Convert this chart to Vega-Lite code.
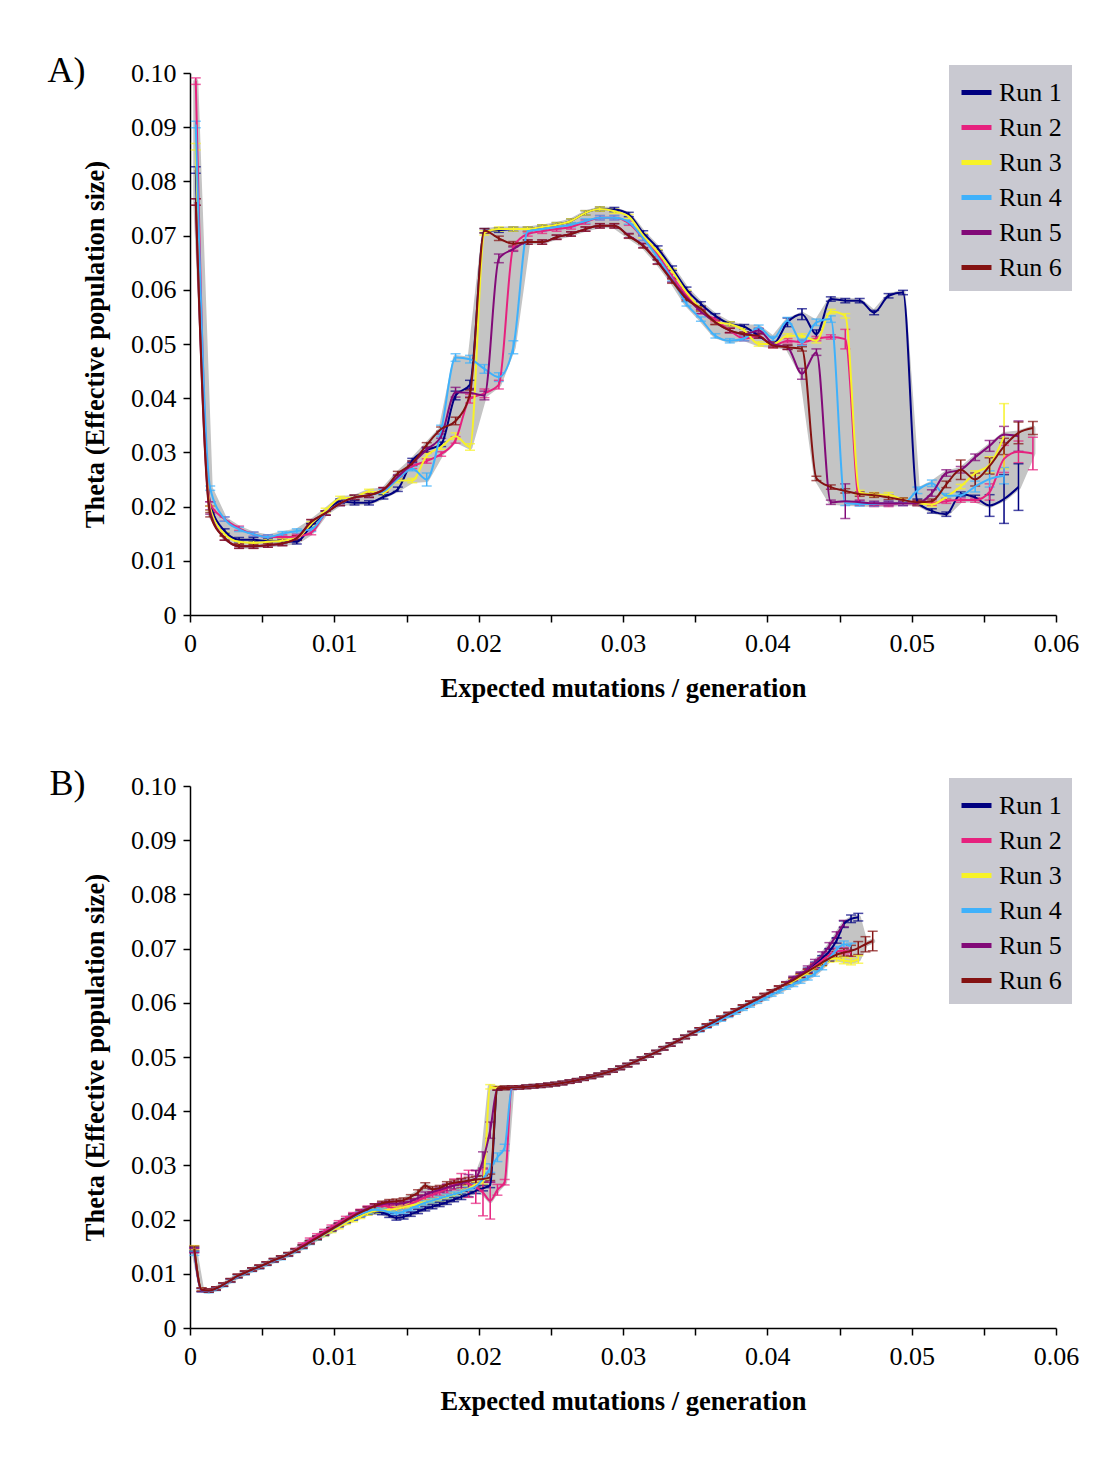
{
"$schema":"https://vega.github.io/schema/vega-lite/v6.json",
"background":"white",
"padding":{"left":47,"top":53,"right":10,"bottom":10},
"spacing":64,
"resolve":{"scale":{"color":"independent"},"legend":{"color":"independent"}},
"config":{"view":{"stroke":null},"font":"Liberation Serif",
"axis":{"labelFont":"Liberation Serif","labelFontSize":26,"labelColor":"#000","titleFont":"Liberation Serif","titleFontSize":26.5,"titleFontWeight":"bold","titleColor":"#000","domainColor":"#000","domainWidth":1.5,"tickColor":"#000","tickWidth":1.5,"tickSize":7,"grid":false},
"title":{"font":"Liberation Serif","fontSize":36,"fontWeight":"normal","color":"#000"}},
"datasets":{
"a":[
{"r":"Run 1","x":0.0004,"y":0.0821,"e":0.0006},{"r":"Run 1","x":0.0014,"y":0.0205,"e":0.0004},{"r":"Run 1","x":0.0024,"y":0.0155,"e":0.0004},{"r":"Run 1","x":0.0034,"y":0.0139,"e":0.0004},{"r":"Run 1","x":0.0044,"y":0.0139,"e":0.0004},{"r":"Run 1","x":0.0054,"y":0.0136,"e":0.0004},{"r":"Run 1","x":0.0064,"y":0.0136,"e":0.0004},{"r":"Run 1","x":0.0074,"y":0.0135,"e":0.0004},{"r":"Run 1","x":0.0084,"y":0.0165,"e":0.0004},{"r":"Run 1","x":0.0094,"y":0.0188,"e":0.0004},{"r":"Run 1","x":0.0104,"y":0.0210,"e":0.0004},{"r":"Run 1","x":0.0114,"y":0.0207,"e":0.0004},{"r":"Run 1","x":0.0124,"y":0.0207,"e":0.0004},{"r":"Run 1","x":0.0134,"y":0.0218,"e":0.0004},{"r":"Run 1","x":0.0144,"y":0.0232,"e":0.0004},{"r":"Run 1","x":0.0154,"y":0.0285,"e":0.0004},{"r":"Run 1","x":0.0164,"y":0.0304,"e":0.0004},{"r":"Run 1","x":0.0174,"y":0.0315,"e":0.0004},{"r":"Run 1","x":0.0184,"y":0.0405,"e":0.0008},{"r":"Run 1","x":0.0194,"y":0.0425,"e":0.0008},{"r":"Run 1","x":0.0204,"y":0.0709,"e":0.0004},{"r":"Run 1","x":0.0214,"y":0.0710,"e":0.0004},{"r":"Run 1","x":0.0224,"y":0.0712,"e":0.0004},{"r":"Run 1","x":0.0234,"y":0.0712,"e":0.0004},{"r":"Run 1","x":0.0244,"y":0.0716,"e":0.0004},{"r":"Run 1","x":0.0254,"y":0.0720,"e":0.0004},{"r":"Run 1","x":0.0264,"y":0.0727,"e":0.0004},{"r":"Run 1","x":0.0274,"y":0.0742,"e":0.0004},{"r":"Run 1","x":0.0284,"y":0.0749,"e":0.0004},{"r":"Run 1","x":0.0294,"y":0.0748,"e":0.0004},{"r":"Run 1","x":0.0304,"y":0.0739,"e":0.0004},{"r":"Run 1","x":0.0314,"y":0.0705,"e":0.0004},{"r":"Run 1","x":0.0324,"y":0.0677,"e":0.0004},{"r":"Run 1","x":0.0334,"y":0.0640,"e":0.0004},{"r":"Run 1","x":0.0344,"y":0.0601,"e":0.0004},{"r":"Run 1","x":0.0354,"y":0.0574,"e":0.0004},{"r":"Run 1","x":0.0364,"y":0.0552,"e":0.0004},{"r":"Run 1","x":0.0374,"y":0.0537,"e":0.0004},{"r":"Run 1","x":0.0384,"y":0.0532,"e":0.0004},{"r":"Run 1","x":0.0394,"y":0.0515,"e":0.0004},{"r":"Run 1","x":0.0404,"y":0.0500,"e":0.0004},{"r":"Run 1","x":0.0414,"y":0.0540,"e":0.0008},{"r":"Run 1","x":0.0424,"y":0.0555,"e":0.0010},{"r":"Run 1","x":0.0434,"y":0.0518,"e":0.0008},{"r":"Run 1","x":0.0444,"y":0.0583,"e":0.0004},{"r":"Run 1","x":0.0454,"y":0.0580,"e":0.0004},{"r":"Run 1","x":0.0464,"y":0.0580,"e":0.0004},{"r":"Run 1","x":0.0474,"y":0.0558,"e":0.0004},{"r":"Run 1","x":0.0484,"y":0.0589,"e":0.0004},{"r":"Run 1","x":0.0494,"y":0.0595,"e":0.0004},{"r":"Run 1","x":0.0504,"y":0.0208,"e":0.0006},{"r":"Run 1","x":0.0514,"y":0.0192,"e":0.0004},{"r":"Run 1","x":0.0524,"y":0.0186,"e":0.0004},{"r":"Run 1","x":0.0534,"y":0.0223,"e":0.0004},{"r":"Run 1","x":0.0544,"y":0.0217,"e":0.0004},{"r":"Run 1","x":0.0554,"y":0.0202,"e":0.0020},{"r":"Run 1","x":0.0564,"y":0.0214,"e":0.0045},{"r":"Run 1","x":0.0574,"y":0.0236,"e":0.0043},
{"r":"Run 2","x":0.0004,"y":0.0985,"e":0.0006},{"r":"Run 2","x":0.0014,"y":0.0205,"e":0.0004},{"r":"Run 2","x":0.0024,"y":0.0177,"e":0.0004},{"r":"Run 2","x":0.0034,"y":0.0160,"e":0.0004},{"r":"Run 2","x":0.0044,"y":0.0149,"e":0.0004},{"r":"Run 2","x":0.0054,"y":0.0144,"e":0.0004},{"r":"Run 2","x":0.0064,"y":0.0144,"e":0.0004},{"r":"Run 2","x":0.0074,"y":0.0145,"e":0.0004},{"r":"Run 2","x":0.0084,"y":0.0152,"e":0.0004},{"r":"Run 2","x":0.0094,"y":0.0188,"e":0.0004},{"r":"Run 2","x":0.0104,"y":0.0206,"e":0.0004},{"r":"Run 2","x":0.0114,"y":0.0217,"e":0.0004},{"r":"Run 2","x":0.0124,"y":0.0221,"e":0.0004},{"r":"Run 2","x":0.0134,"y":0.0231,"e":0.0004},{"r":"Run 2","x":0.0144,"y":0.0251,"e":0.0004},{"r":"Run 2","x":0.0154,"y":0.0274,"e":0.0004},{"r":"Run 2","x":0.0164,"y":0.0284,"e":0.0004},{"r":"Run 2","x":0.0174,"y":0.0297,"e":0.0004},{"r":"Run 2","x":0.0184,"y":0.0323,"e":0.0006},{"r":"Run 2","x":0.0194,"y":0.0399,"e":0.0008},{"r":"Run 2","x":0.0204,"y":0.0409,"e":0.0008},{"r":"Run 2","x":0.0214,"y":0.0425,"e":0.0008},{"r":"Run 2","x":0.0224,"y":0.0679,"e":0.0006},{"r":"Run 2","x":0.0234,"y":0.0703,"e":0.0004},{"r":"Run 2","x":0.0244,"y":0.0708,"e":0.0004},{"r":"Run 2","x":0.0254,"y":0.0712,"e":0.0004},{"r":"Run 2","x":0.0264,"y":0.0716,"e":0.0004},{"r":"Run 2","x":0.0274,"y":0.0725,"e":0.0004},{"r":"Run 2","x":0.0284,"y":0.0733,"e":0.0004},{"r":"Run 2","x":0.0294,"y":0.0733,"e":0.0004},{"r":"Run 2","x":0.0304,"y":0.0723,"e":0.0004},{"r":"Run 2","x":0.0314,"y":0.0695,"e":0.0004},{"r":"Run 2","x":0.0324,"y":0.0665,"e":0.0004},{"r":"Run 2","x":0.0334,"y":0.0625,"e":0.0004},{"r":"Run 2","x":0.0344,"y":0.0590,"e":0.0004},{"r":"Run 2","x":0.0354,"y":0.0560,"e":0.0004},{"r":"Run 2","x":0.0364,"y":0.0545,"e":0.0004},{"r":"Run 2","x":0.0374,"y":0.0525,"e":0.0004},{"r":"Run 2","x":0.0384,"y":0.0510,"e":0.0004},{"r":"Run 2","x":0.0394,"y":0.0515,"e":0.0004},{"r":"Run 2","x":0.0404,"y":0.0497,"e":0.0004},{"r":"Run 2","x":0.0414,"y":0.0506,"e":0.0004},{"r":"Run 2","x":0.0424,"y":0.0503,"e":0.0004},{"r":"Run 2","x":0.0434,"y":0.0510,"e":0.0004},{"r":"Run 2","x":0.0444,"y":0.0513,"e":0.0004},{"r":"Run 2","x":0.0454,"y":0.0509,"e":0.0018},{"r":"Run 2","x":0.0464,"y":0.0206,"e":0.0004},{"r":"Run 2","x":0.0474,"y":0.0204,"e":0.0004},{"r":"Run 2","x":0.0484,"y":0.0204,"e":0.0004},{"r":"Run 2","x":0.0494,"y":0.0206,"e":0.0004},{"r":"Run 2","x":0.0504,"y":0.0206,"e":0.0004},{"r":"Run 2","x":0.0514,"y":0.0206,"e":0.0004},{"r":"Run 2","x":0.0524,"y":0.0210,"e":0.0004},{"r":"Run 2","x":0.0534,"y":0.0212,"e":0.0004},{"r":"Run 2","x":0.0544,"y":0.0212,"e":0.0004},{"r":"Run 2","x":0.0554,"y":0.0227,"e":0.0015},{"r":"Run 2","x":0.0564,"y":0.0288,"e":0.0025},{"r":"Run 2","x":0.0574,"y":0.0301,"e":0.0020},{"r":"Run 2","x":0.0584,"y":0.0298,"e":0.0030},
{"r":"Run 3","x":0.0004,"y":0.0864,"e":0.0006},{"r":"Run 3","x":0.0014,"y":0.0197,"e":0.0004},{"r":"Run 3","x":0.0024,"y":0.0149,"e":0.0004},{"r":"Run 3","x":0.0034,"y":0.0135,"e":0.0004},{"r":"Run 3","x":0.0044,"y":0.0133,"e":0.0004},{"r":"Run 3","x":0.0054,"y":0.0135,"e":0.0004},{"r":"Run 3","x":0.0064,"y":0.0137,"e":0.0004},{"r":"Run 3","x":0.0074,"y":0.0142,"e":0.0004},{"r":"Run 3","x":0.0084,"y":0.0168,"e":0.0004},{"r":"Run 3","x":0.0094,"y":0.0193,"e":0.0004},{"r":"Run 3","x":0.0104,"y":0.0215,"e":0.0004},{"r":"Run 3","x":0.0114,"y":0.0217,"e":0.0004},{"r":"Run 3","x":0.0124,"y":0.0228,"e":0.0004},{"r":"Run 3","x":0.0134,"y":0.0225,"e":0.0004},{"r":"Run 3","x":0.0144,"y":0.0248,"e":0.0004},{"r":"Run 3","x":0.0154,"y":0.0248,"e":0.0004},{"r":"Run 3","x":0.0164,"y":0.0294,"e":0.0004},{"r":"Run 3","x":0.0174,"y":0.0310,"e":0.0004},{"r":"Run 3","x":0.0184,"y":0.0330,"e":0.0006},{"r":"Run 3","x":0.0194,"y":0.0310,"e":0.0006},{"r":"Run 3","x":0.0204,"y":0.0705,"e":0.0004},{"r":"Run 3","x":0.0214,"y":0.0712,"e":0.0004},{"r":"Run 3","x":0.0224,"y":0.0712,"e":0.0004},{"r":"Run 3","x":0.0234,"y":0.0712,"e":0.0004},{"r":"Run 3","x":0.0244,"y":0.0716,"e":0.0004},{"r":"Run 3","x":0.0254,"y":0.0720,"e":0.0004},{"r":"Run 3","x":0.0264,"y":0.0727,"e":0.0004},{"r":"Run 3","x":0.0274,"y":0.0742,"e":0.0004},{"r":"Run 3","x":0.0284,"y":0.0749,"e":0.0004},{"r":"Run 3","x":0.0294,"y":0.0745,"e":0.0004},{"r":"Run 3","x":0.0304,"y":0.0735,"e":0.0004},{"r":"Run 3","x":0.0314,"y":0.0700,"e":0.0004},{"r":"Run 3","x":0.0324,"y":0.0670,"e":0.0004},{"r":"Run 3","x":0.0334,"y":0.0635,"e":0.0004},{"r":"Run 3","x":0.0344,"y":0.0595,"e":0.0004},{"r":"Run 3","x":0.0354,"y":0.0565,"e":0.0004},{"r":"Run 3","x":0.0364,"y":0.0540,"e":0.0004},{"r":"Run 3","x":0.0374,"y":0.0537,"e":0.0004},{"r":"Run 3","x":0.0384,"y":0.0525,"e":0.0004},{"r":"Run 3","x":0.0394,"y":0.0500,"e":0.0004},{"r":"Run 3","x":0.0404,"y":0.0500,"e":0.0004},{"r":"Run 3","x":0.0414,"y":0.0515,"e":0.0004},{"r":"Run 3","x":0.0424,"y":0.0515,"e":0.0004},{"r":"Run 3","x":0.0434,"y":0.0506,"e":0.0004},{"r":"Run 3","x":0.0444,"y":0.0560,"e":0.0004},{"r":"Run 3","x":0.0454,"y":0.0552,"e":0.0004},{"r":"Run 3","x":0.0464,"y":0.0226,"e":0.0004},{"r":"Run 3","x":0.0474,"y":0.0222,"e":0.0004},{"r":"Run 3","x":0.0484,"y":0.0222,"e":0.0004},{"r":"Run 3","x":0.0494,"y":0.0212,"e":0.0004},{"r":"Run 3","x":0.0504,"y":0.0206,"e":0.0004},{"r":"Run 3","x":0.0514,"y":0.0204,"e":0.0004},{"r":"Run 3","x":0.0524,"y":0.0218,"e":0.0004},{"r":"Run 3","x":0.0534,"y":0.0237,"e":0.0004},{"r":"Run 3","x":0.0544,"y":0.0262,"e":0.0004},{"r":"Run 3","x":0.0554,"y":0.0277,"e":0.0015},{"r":"Run 3","x":0.0564,"y":0.0330,"e":0.0060},
{"r":"Run 4","x":0.0004,"y":0.0905,"e":0.0006},{"r":"Run 4","x":0.0014,"y":0.0234,"e":0.0004},{"r":"Run 4","x":0.0024,"y":0.0177,"e":0.0004},{"r":"Run 4","x":0.0034,"y":0.0158,"e":0.0004},{"r":"Run 4","x":0.0044,"y":0.0149,"e":0.0004},{"r":"Run 4","x":0.0054,"y":0.0144,"e":0.0004},{"r":"Run 4","x":0.0064,"y":0.0150,"e":0.0004},{"r":"Run 4","x":0.0074,"y":0.0155,"e":0.0004},{"r":"Run 4","x":0.0084,"y":0.0158,"e":0.0004},{"r":"Run 4","x":0.0094,"y":0.0188,"e":0.0004},{"r":"Run 4","x":0.0104,"y":0.0206,"e":0.0004},{"r":"Run 4","x":0.0114,"y":0.0217,"e":0.0004},{"r":"Run 4","x":0.0124,"y":0.0221,"e":0.0004},{"r":"Run 4","x":0.0134,"y":0.0228,"e":0.0004},{"r":"Run 4","x":0.0144,"y":0.0251,"e":0.0004},{"r":"Run 4","x":0.0154,"y":0.0270,"e":0.0004},{"r":"Run 4","x":0.0164,"y":0.0250,"e":0.0012},{"r":"Run 4","x":0.0174,"y":0.0340,"e":0.0010},{"r":"Run 4","x":0.0184,"y":0.0475,"e":0.0007},{"r":"Run 4","x":0.0194,"y":0.0472,"e":0.0007},{"r":"Run 4","x":0.0204,"y":0.0454,"e":0.0008},{"r":"Run 4","x":0.0214,"y":0.0439,"e":0.0008},{"r":"Run 4","x":0.0224,"y":0.0494,"e":0.0012},{"r":"Run 4","x":0.0234,"y":0.0708,"e":0.0004},{"r":"Run 4","x":0.0244,"y":0.0712,"e":0.0004},{"r":"Run 4","x":0.0254,"y":0.0716,"e":0.0004},{"r":"Run 4","x":0.0264,"y":0.0720,"e":0.0004},{"r":"Run 4","x":0.0274,"y":0.0727,"e":0.0004},{"r":"Run 4","x":0.0284,"y":0.0733,"e":0.0004},{"r":"Run 4","x":0.0294,"y":0.0733,"e":0.0004},{"r":"Run 4","x":0.0304,"y":0.0725,"e":0.0004},{"r":"Run 4","x":0.0314,"y":0.0695,"e":0.0004},{"r":"Run 4","x":0.0324,"y":0.0660,"e":0.0004},{"r":"Run 4","x":0.0334,"y":0.0620,"e":0.0004},{"r":"Run 4","x":0.0344,"y":0.0574,"e":0.0004},{"r":"Run 4","x":0.0354,"y":0.0546,"e":0.0004},{"r":"Run 4","x":0.0364,"y":0.0515,"e":0.0004},{"r":"Run 4","x":0.0374,"y":0.0506,"e":0.0004},{"r":"Run 4","x":0.0384,"y":0.0510,"e":0.0004},{"r":"Run 4","x":0.0394,"y":0.0531,"e":0.0004},{"r":"Run 4","x":0.0404,"y":0.0510,"e":0.0004},{"r":"Run 4","x":0.0414,"y":0.0543,"e":0.0006},{"r":"Run 4","x":0.0424,"y":0.0503,"e":0.0006},{"r":"Run 4","x":0.0434,"y":0.0540,"e":0.0006},{"r":"Run 4","x":0.0444,"y":0.0546,"e":0.0006},{"r":"Run 4","x":0.0454,"y":0.0206,"e":0.0004},{"r":"Run 4","x":0.0464,"y":0.0205,"e":0.0004},{"r":"Run 4","x":0.0474,"y":0.0205,"e":0.0004},{"r":"Run 4","x":0.0484,"y":0.0206,"e":0.0004},{"r":"Run 4","x":0.0494,"y":0.0206,"e":0.0004},{"r":"Run 4","x":0.0504,"y":0.0230,"e":0.0006},{"r":"Run 4","x":0.0514,"y":0.0243,"e":0.0006},{"r":"Run 4","x":0.0524,"y":0.0220,"e":0.0004},{"r":"Run 4","x":0.0534,"y":0.0221,"e":0.0004},{"r":"Run 4","x":0.0544,"y":0.0237,"e":0.0010},{"r":"Run 4","x":0.0554,"y":0.0251,"e":0.0015},{"r":"Run 4","x":0.0564,"y":0.0257,"e":0.0015},
{"r":"Run 5","x":0.0004,"y":0.0762,"e":0.0006},{"r":"Run 5","x":0.0014,"y":0.0190,"e":0.0004},{"r":"Run 5","x":0.0024,"y":0.0142,"e":0.0004},{"r":"Run 5","x":0.0034,"y":0.0127,"e":0.0004},{"r":"Run 5","x":0.0044,"y":0.0127,"e":0.0004},{"r":"Run 5","x":0.0054,"y":0.0129,"e":0.0004},{"r":"Run 5","x":0.0064,"y":0.0132,"e":0.0004},{"r":"Run 5","x":0.0074,"y":0.0142,"e":0.0004},{"r":"Run 5","x":0.0084,"y":0.0172,"e":0.0004},{"r":"Run 5","x":0.0094,"y":0.0188,"e":0.0004},{"r":"Run 5","x":0.0104,"y":0.0206,"e":0.0004},{"r":"Run 5","x":0.0114,"y":0.0217,"e":0.0004},{"r":"Run 5","x":0.0124,"y":0.0221,"e":0.0004},{"r":"Run 5","x":0.0134,"y":0.0231,"e":0.0004},{"r":"Run 5","x":0.0144,"y":0.0255,"e":0.0004},{"r":"Run 5","x":0.0154,"y":0.0280,"e":0.0004},{"r":"Run 5","x":0.0164,"y":0.0305,"e":0.0004},{"r":"Run 5","x":0.0174,"y":0.0330,"e":0.0004},{"r":"Run 5","x":0.0184,"y":0.0411,"e":0.0009},{"r":"Run 5","x":0.0194,"y":0.0410,"e":0.0008},{"r":"Run 5","x":0.0204,"y":0.0405,"e":0.0008},{"r":"Run 5","x":0.0214,"y":0.0658,"e":0.0008},{"r":"Run 5","x":0.0224,"y":0.0675,"e":0.0004},{"r":"Run 5","x":0.0234,"y":0.0688,"e":0.0004},{"r":"Run 5","x":0.0244,"y":0.0688,"e":0.0004},{"r":"Run 5","x":0.0254,"y":0.0697,"e":0.0004},{"r":"Run 5","x":0.0264,"y":0.0703,"e":0.0004},{"r":"Run 5","x":0.0274,"y":0.0712,"e":0.0004},{"r":"Run 5","x":0.0284,"y":0.0718,"e":0.0004},{"r":"Run 5","x":0.0294,"y":0.0718,"e":0.0004},{"r":"Run 5","x":0.0304,"y":0.0700,"e":0.0004},{"r":"Run 5","x":0.0314,"y":0.0682,"e":0.0004},{"r":"Run 5","x":0.0324,"y":0.0652,"e":0.0004},{"r":"Run 5","x":0.0334,"y":0.0618,"e":0.0004},{"r":"Run 5","x":0.0344,"y":0.0586,"e":0.0004},{"r":"Run 5","x":0.0354,"y":0.0560,"e":0.0004},{"r":"Run 5","x":0.0364,"y":0.0540,"e":0.0004},{"r":"Run 5","x":0.0374,"y":0.0525,"e":0.0004},{"r":"Run 5","x":0.0384,"y":0.0518,"e":0.0004},{"r":"Run 5","x":0.0394,"y":0.0525,"e":0.0004},{"r":"Run 5","x":0.0404,"y":0.0500,"e":0.0004},{"r":"Run 5","x":0.0414,"y":0.0494,"e":0.0004},{"r":"Run 5","x":0.0424,"y":0.0445,"e":0.0010},{"r":"Run 5","x":0.0434,"y":0.0485,"e":0.0006},{"r":"Run 5","x":0.0444,"y":0.0208,"e":0.0004},{"r":"Run 5","x":0.0454,"y":0.0210,"e":0.0032},{"r":"Run 5","x":0.0464,"y":0.0208,"e":0.0004},{"r":"Run 5","x":0.0474,"y":0.0206,"e":0.0004},{"r":"Run 5","x":0.0484,"y":0.0206,"e":0.0004},{"r":"Run 5","x":0.0494,"y":0.0206,"e":0.0004},{"r":"Run 5","x":0.0504,"y":0.0206,"e":0.0004},{"r":"Run 5","x":0.0514,"y":0.0225,"e":0.0006},{"r":"Run 5","x":0.0524,"y":0.0262,"e":0.0006},{"r":"Run 5","x":0.0534,"y":0.0268,"e":0.0006},{"r":"Run 5","x":0.0544,"y":0.0291,"e":0.0006},{"r":"Run 5","x":0.0554,"y":0.0312,"e":0.0010},{"r":"Run 5","x":0.0564,"y":0.0333,"e":0.0015},{"r":"Run 5","x":0.0574,"y":0.0330,"e":0.0028},
{"r":"Run 6","x":0.0004,"y":0.0762,"e":0.0006},{"r":"Run 6","x":0.0014,"y":0.0185,"e":0.0004},{"r":"Run 6","x":0.0024,"y":0.0142,"e":0.0004},{"r":"Run 6","x":0.0034,"y":0.0127,"e":0.0004},{"r":"Run 6","x":0.0044,"y":0.0127,"e":0.0004},{"r":"Run 6","x":0.0054,"y":0.0129,"e":0.0004},{"r":"Run 6","x":0.0064,"y":0.0132,"e":0.0004},{"r":"Run 6","x":0.0074,"y":0.0142,"e":0.0004},{"r":"Run 6","x":0.0084,"y":0.0172,"e":0.0004},{"r":"Run 6","x":0.0094,"y":0.0188,"e":0.0004},{"r":"Run 6","x":0.0104,"y":0.0206,"e":0.0004},{"r":"Run 6","x":0.0114,"y":0.0217,"e":0.0004},{"r":"Run 6","x":0.0124,"y":0.0221,"e":0.0004},{"r":"Run 6","x":0.0134,"y":0.0231,"e":0.0004},{"r":"Run 6","x":0.0144,"y":0.0261,"e":0.0004},{"r":"Run 6","x":0.0154,"y":0.0280,"e":0.0004},{"r":"Run 6","x":0.0164,"y":0.0314,"e":0.0004},{"r":"Run 6","x":0.0174,"y":0.0343,"e":0.0004},{"r":"Run 6","x":0.0184,"y":0.0358,"e":0.0007},{"r":"Run 6","x":0.0194,"y":0.0408,"e":0.0007},{"r":"Run 6","x":0.0204,"y":0.0709,"e":0.0004},{"r":"Run 6","x":0.0214,"y":0.0695,"e":0.0004},{"r":"Run 6","x":0.0224,"y":0.0685,"e":0.0004},{"r":"Run 6","x":0.0234,"y":0.0688,"e":0.0004},{"r":"Run 6","x":0.0244,"y":0.0688,"e":0.0004},{"r":"Run 6","x":0.0254,"y":0.0697,"e":0.0004},{"r":"Run 6","x":0.0264,"y":0.0703,"e":0.0004},{"r":"Run 6","x":0.0274,"y":0.0712,"e":0.0004},{"r":"Run 6","x":0.0284,"y":0.0718,"e":0.0004},{"r":"Run 6","x":0.0294,"y":0.0718,"e":0.0004},{"r":"Run 6","x":0.0304,"y":0.0699,"e":0.0004},{"r":"Run 6","x":0.0314,"y":0.0681,"e":0.0004},{"r":"Run 6","x":0.0324,"y":0.0651,"e":0.0004},{"r":"Run 6","x":0.0334,"y":0.0616,"e":0.0004},{"r":"Run 6","x":0.0344,"y":0.0583,"e":0.0004},{"r":"Run 6","x":0.0354,"y":0.0565,"e":0.0004},{"r":"Run 6","x":0.0364,"y":0.0540,"e":0.0004},{"r":"Run 6","x":0.0374,"y":0.0525,"e":0.0004},{"r":"Run 6","x":0.0384,"y":0.0518,"e":0.0004},{"r":"Run 6","x":0.0394,"y":0.0515,"e":0.0004},{"r":"Run 6","x":0.0404,"y":0.0497,"e":0.0004},{"r":"Run 6","x":0.0414,"y":0.0494,"e":0.0004},{"r":"Run 6","x":0.0424,"y":0.0491,"e":0.0004},{"r":"Run 6","x":0.0434,"y":0.0252,"e":0.0004},{"r":"Run 6","x":0.0444,"y":0.0236,"e":0.0004},{"r":"Run 6","x":0.0454,"y":0.0229,"e":0.0004},{"r":"Run 6","x":0.0464,"y":0.0223,"e":0.0004},{"r":"Run 6","x":0.0474,"y":0.0221,"e":0.0004},{"r":"Run 6","x":0.0484,"y":0.0217,"e":0.0004},{"r":"Run 6","x":0.0494,"y":0.0212,"e":0.0004},{"r":"Run 6","x":0.0504,"y":0.0208,"e":0.0004},{"r":"Run 6","x":0.0514,"y":0.0210,"e":0.0004},{"r":"Run 6","x":0.0524,"y":0.0241,"e":0.0006},{"r":"Run 6","x":0.0534,"y":0.0268,"e":0.0018},{"r":"Run 6","x":0.0544,"y":0.0250,"e":0.0012},{"r":"Run 6","x":0.0554,"y":0.0275,"e":0.0015},{"r":"Run 6","x":0.0564,"y":0.0311,"e":0.0015},{"r":"Run 6","x":0.0574,"y":0.0336,"e":0.0020},{"r":"Run 6","x":0.0584,"y":0.0345,"e":0.0012}
],
"b":[
{"r":"Run 1","x":0.0003,"y":0.0145,"e":0.0004},{"r":"Run 1","x":0.0008,"y":0.0070,"e":0.0003},{"r":"Run 1","x":0.0013,"y":0.0069,"e":0.0003},{"r":"Run 1","x":0.0018,"y":0.0073,"e":0.0003},{"r":"Run 1","x":0.0023,"y":0.0080,"e":0.0003},{"r":"Run 1","x":0.0028,"y":0.0088,"e":0.0003},{"r":"Run 1","x":0.0033,"y":0.0096,"e":0.0003},{"r":"Run 1","x":0.0038,"y":0.0102,"e":0.0003},{"r":"Run 1","x":0.0043,"y":0.0108,"e":0.0003},{"r":"Run 1","x":0.0048,"y":0.0113,"e":0.0003},{"r":"Run 1","x":0.0053,"y":0.0119,"e":0.0003},{"r":"Run 1","x":0.0058,"y":0.0125,"e":0.0003},{"r":"Run 1","x":0.0063,"y":0.0130,"e":0.0003},{"r":"Run 1","x":0.0068,"y":0.0136,"e":0.0003},{"r":"Run 1","x":0.0073,"y":0.0143,"e":0.0003},{"r":"Run 1","x":0.0078,"y":0.0150,"e":0.0003},{"r":"Run 1","x":0.0083,"y":0.0158,"e":0.0003},{"r":"Run 1","x":0.0088,"y":0.0166,"e":0.0003},{"r":"Run 1","x":0.0093,"y":0.0174,"e":0.0003},{"r":"Run 1","x":0.0098,"y":0.0182,"e":0.0003},{"r":"Run 1","x":0.0103,"y":0.0190,"e":0.0003},{"r":"Run 1","x":0.0108,"y":0.0197,"e":0.0003},{"r":"Run 1","x":0.0113,"y":0.0203,"e":0.0004},{"r":"Run 1","x":0.0118,"y":0.0209,"e":0.0004},{"r":"Run 1","x":0.0123,"y":0.0213,"e":0.0004},{"r":"Run 1","x":0.0128,"y":0.0215,"e":0.0004},{"r":"Run 1","x":0.0133,"y":0.0213,"e":0.0004},{"r":"Run 1","x":0.0138,"y":0.0208,"e":0.0004},{"r":"Run 1","x":0.0143,"y":0.0203,"e":0.0004},{"r":"Run 1","x":0.0148,"y":0.0205,"e":0.0004},{"r":"Run 1","x":0.0153,"y":0.0210,"e":0.0004},{"r":"Run 1","x":0.0158,"y":0.0215,"e":0.0004},{"r":"Run 1","x":0.0163,"y":0.0220,"e":0.0004},{"r":"Run 1","x":0.0168,"y":0.0224,"e":0.0004},{"r":"Run 1","x":0.0173,"y":0.0228,"e":0.0004},{"r":"Run 1","x":0.0178,"y":0.0232,"e":0.0004},{"r":"Run 1","x":0.0183,"y":0.0237,"e":0.0004},{"r":"Run 1","x":0.0188,"y":0.0242,"e":0.0005},{"r":"Run 1","x":0.0193,"y":0.0247,"e":0.0005},{"r":"Run 1","x":0.0198,"y":0.0253,"e":0.0005},{"r":"Run 1","x":0.0203,"y":0.0258,"e":0.0005},{"r":"Run 1","x":0.0208,"y":0.0264,"e":0.0005},{"r":"Run 1","x":0.0213,"y":0.0442,"e":0.0003},{"r":"Run 1","x":0.0218,"y":0.0443,"e":0.0003},{"r":"Run 1","x":0.0223,"y":0.04435,"e":0.0003},{"r":"Run 1","x":0.0228,"y":0.0444,"e":0.0003},{"r":"Run 1","x":0.0233,"y":0.0445,"e":0.0003},{"r":"Run 1","x":0.0238,"y":0.0446,"e":0.0003},{"r":"Run 1","x":0.0243,"y":0.0447,"e":0.0003},{"r":"Run 1","x":0.0248,"y":0.04485,"e":0.0003},{"r":"Run 1","x":0.0253,"y":0.0450,"e":0.0003},{"r":"Run 1","x":0.0258,"y":0.0452,"e":0.0003},{"r":"Run 1","x":0.0263,"y":0.04545,"e":0.0003},{"r":"Run 1","x":0.0268,"y":0.0457,"e":0.0003},{"r":"Run 1","x":0.0273,"y":0.0460,"e":0.0003},{"r":"Run 1","x":0.0278,"y":0.04635,"e":0.0003},{"r":"Run 1","x":0.0283,"y":0.0467,"e":0.0003},{"r":"Run 1","x":0.0288,"y":0.0471,"e":0.0003},{"r":"Run 1","x":0.0293,"y":0.0475,"e":0.0003},{"r":"Run 1","x":0.0298,"y":0.0480,"e":0.0003},{"r":"Run 1","x":0.0303,"y":0.0485,"e":0.0003},{"r":"Run 1","x":0.0308,"y":0.0491,"e":0.0003},{"r":"Run 1","x":0.0313,"y":0.0497,"e":0.0003},{"r":"Run 1","x":0.0318,"y":0.0503,"e":0.0003},{"r":"Run 1","x":0.0323,"y":0.0509,"e":0.0003},{"r":"Run 1","x":0.0328,"y":0.0516,"e":0.0003},{"r":"Run 1","x":0.0333,"y":0.0523,"e":0.0003},{"r":"Run 1","x":0.0338,"y":0.0530,"e":0.0003},{"r":"Run 1","x":0.0343,"y":0.0537,"e":0.0003},{"r":"Run 1","x":0.0348,"y":0.0544,"e":0.0003},{"r":"Run 1","x":0.0353,"y":0.0551,"e":0.0003},{"r":"Run 1","x":0.0358,"y":0.0558,"e":0.0003},{"r":"Run 1","x":0.0363,"y":0.0565,"e":0.0003},{"r":"Run 1","x":0.0368,"y":0.0572,"e":0.0003},{"r":"Run 1","x":0.0373,"y":0.0579,"e":0.0003},{"r":"Run 1","x":0.0378,"y":0.0586,"e":0.0003},{"r":"Run 1","x":0.0383,"y":0.0593,"e":0.0003},{"r":"Run 1","x":0.0388,"y":0.0600,"e":0.0003},{"r":"Run 1","x":0.0393,"y":0.0607,"e":0.0003},{"r":"Run 1","x":0.0398,"y":0.0614,"e":0.0003},{"r":"Run 1","x":0.0403,"y":0.0621,"e":0.0003},{"r":"Run 1","x":0.0408,"y":0.0628,"e":0.0003},{"r":"Run 1","x":0.0413,"y":0.0635,"e":0.0003},{"r":"Run 1","x":0.0418,"y":0.0643,"e":0.0004},{"r":"Run 1","x":0.0423,"y":0.0651,"e":0.0004},{"r":"Run 1","x":0.0428,"y":0.0660,"e":0.0004},{"r":"Run 1","x":0.0433,"y":0.0670,"e":0.0005},{"r":"Run 1","x":0.0438,"y":0.0682,"e":0.0005},{"r":"Run 1","x":0.0443,"y":0.0695,"e":0.0005},{"r":"Run 1","x":0.0448,"y":0.0715,"e":0.0005},{"r":"Run 1","x":0.0453,"y":0.0745,"e":0.0006},{"r":"Run 1","x":0.0458,"y":0.0755,"e":0.0007},{"r":"Run 1","x":0.0463,"y":0.0758,"e":0.0007},
{"r":"Run 2","x":0.0003,"y":0.0143,"e":0.0004},{"r":"Run 2","x":0.0008,"y":0.0071,"e":0.0003},{"r":"Run 2","x":0.0013,"y":0.0069,"e":0.0003},{"r":"Run 2","x":0.0018,"y":0.0073,"e":0.0003},{"r":"Run 2","x":0.0023,"y":0.0080,"e":0.0003},{"r":"Run 2","x":0.0028,"y":0.0088,"e":0.0003},{"r":"Run 2","x":0.0033,"y":0.0096,"e":0.0003},{"r":"Run 2","x":0.0038,"y":0.0102,"e":0.0003},{"r":"Run 2","x":0.0043,"y":0.0108,"e":0.0003},{"r":"Run 2","x":0.0048,"y":0.0113,"e":0.0003},{"r":"Run 2","x":0.0053,"y":0.0119,"e":0.0003},{"r":"Run 2","x":0.0058,"y":0.0125,"e":0.0003},{"r":"Run 2","x":0.0063,"y":0.0130,"e":0.0003},{"r":"Run 2","x":0.0068,"y":0.0136,"e":0.0003},{"r":"Run 2","x":0.0073,"y":0.0144,"e":0.0003},{"r":"Run 2","x":0.0078,"y":0.0153,"e":0.0004},{"r":"Run 2","x":0.0083,"y":0.0162,"e":0.0004},{"r":"Run 2","x":0.0088,"y":0.0170,"e":0.0004},{"r":"Run 2","x":0.0093,"y":0.0178,"e":0.0004},{"r":"Run 2","x":0.0098,"y":0.0186,"e":0.0004},{"r":"Run 2","x":0.0103,"y":0.0194,"e":0.0004},{"r":"Run 2","x":0.0108,"y":0.0202,"e":0.0004},{"r":"Run 2","x":0.0113,"y":0.0209,"e":0.0004},{"r":"Run 2","x":0.0118,"y":0.0215,"e":0.0004},{"r":"Run 2","x":0.0123,"y":0.0221,"e":0.0004},{"r":"Run 2","x":0.0128,"y":0.0225,"e":0.0004},{"r":"Run 2","x":0.0133,"y":0.0226,"e":0.0004},{"r":"Run 2","x":0.0138,"y":0.0223,"e":0.0004},{"r":"Run 2","x":0.0143,"y":0.0220,"e":0.0004},{"r":"Run 2","x":0.0148,"y":0.0223,"e":0.0004},{"r":"Run 2","x":0.0153,"y":0.0229,"e":0.0004},{"r":"Run 2","x":0.0158,"y":0.0235,"e":0.0004},{"r":"Run 2","x":0.0163,"y":0.0241,"e":0.0004},{"r":"Run 2","x":0.0168,"y":0.0246,"e":0.0005},{"r":"Run 2","x":0.0173,"y":0.0251,"e":0.0006},{"r":"Run 2","x":0.0178,"y":0.0257,"e":0.0008},{"r":"Run 2","x":0.0183,"y":0.0265,"e":0.0010},{"r":"Run 2","x":0.0188,"y":0.0270,"e":0.0015},{"r":"Run 2","x":0.0193,"y":0.0266,"e":0.0025},{"r":"Run 2","x":0.0198,"y":0.0260,"e":0.0030},{"r":"Run 2","x":0.0203,"y":0.0250,"e":0.0043},{"r":"Run 2","x":0.0208,"y":0.0235,"e":0.0034},{"r":"Run 2","x":0.0213,"y":0.0255,"e":0.0010},{"r":"Run 2","x":0.0218,"y":0.0269,"e":0.0005},{"r":"Run 2","x":0.0223,"y":0.0443,"e":0.0003},{"r":"Run 2","x":0.0228,"y":0.0444,"e":0.0003},{"r":"Run 2","x":0.0233,"y":0.0445,"e":0.0003},{"r":"Run 2","x":0.0238,"y":0.0446,"e":0.0003},{"r":"Run 2","x":0.0243,"y":0.0447,"e":0.0003},{"r":"Run 2","x":0.0248,"y":0.04485,"e":0.0003},{"r":"Run 2","x":0.0253,"y":0.0450,"e":0.0003},{"r":"Run 2","x":0.0258,"y":0.0452,"e":0.0003},{"r":"Run 2","x":0.0263,"y":0.04545,"e":0.0003},{"r":"Run 2","x":0.0268,"y":0.0457,"e":0.0003},{"r":"Run 2","x":0.0273,"y":0.0460,"e":0.0003},{"r":"Run 2","x":0.0278,"y":0.04635,"e":0.0003},{"r":"Run 2","x":0.0283,"y":0.0467,"e":0.0003},{"r":"Run 2","x":0.0288,"y":0.0471,"e":0.0003},{"r":"Run 2","x":0.0293,"y":0.0475,"e":0.0003},{"r":"Run 2","x":0.0298,"y":0.0480,"e":0.0003},{"r":"Run 2","x":0.0303,"y":0.0485,"e":0.0003},{"r":"Run 2","x":0.0308,"y":0.0491,"e":0.0003},{"r":"Run 2","x":0.0313,"y":0.0497,"e":0.0003},{"r":"Run 2","x":0.0318,"y":0.0503,"e":0.0003},{"r":"Run 2","x":0.0323,"y":0.0509,"e":0.0003},{"r":"Run 2","x":0.0328,"y":0.0516,"e":0.0003},{"r":"Run 2","x":0.0333,"y":0.0523,"e":0.0003},{"r":"Run 2","x":0.0338,"y":0.0530,"e":0.0003},{"r":"Run 2","x":0.0343,"y":0.0537,"e":0.0003},{"r":"Run 2","x":0.0348,"y":0.0544,"e":0.0003},{"r":"Run 2","x":0.0353,"y":0.0551,"e":0.0003},{"r":"Run 2","x":0.0358,"y":0.0558,"e":0.0003},{"r":"Run 2","x":0.0363,"y":0.0565,"e":0.0003},{"r":"Run 2","x":0.0368,"y":0.0572,"e":0.0003},{"r":"Run 2","x":0.0373,"y":0.0579,"e":0.0003},{"r":"Run 2","x":0.0378,"y":0.0586,"e":0.0003},{"r":"Run 2","x":0.0383,"y":0.0593,"e":0.0003},{"r":"Run 2","x":0.0388,"y":0.0600,"e":0.0003},{"r":"Run 2","x":0.0393,"y":0.0607,"e":0.0003},{"r":"Run 2","x":0.0398,"y":0.0614,"e":0.0003},{"r":"Run 2","x":0.0403,"y":0.0621,"e":0.0003},{"r":"Run 2","x":0.0408,"y":0.0628,"e":0.0003},{"r":"Run 2","x":0.0413,"y":0.0635,"e":0.0003},{"r":"Run 2","x":0.0418,"y":0.0641,"e":0.0004},{"r":"Run 2","x":0.0423,"y":0.0649,"e":0.0004},{"r":"Run 2","x":0.0428,"y":0.0658,"e":0.0004},{"r":"Run 2","x":0.0433,"y":0.0668,"e":0.0005},{"r":"Run 2","x":0.0438,"y":0.0678,"e":0.0005},{"r":"Run 2","x":0.0443,"y":0.0688,"e":0.0006},{"r":"Run 2","x":0.0448,"y":0.0695,"e":0.0006},{"r":"Run 2","x":0.0453,"y":0.0696,"e":0.0006},{"r":"Run 2","x":0.0458,"y":0.0692,"e":0.0006},
{"r":"Run 3","x":0.0003,"y":0.0148,"e":0.0004},{"r":"Run 3","x":0.0008,"y":0.0071,"e":0.0003},{"r":"Run 3","x":0.0013,"y":0.0069,"e":0.0003},{"r":"Run 3","x":0.0018,"y":0.0073,"e":0.0003},{"r":"Run 3","x":0.0023,"y":0.0080,"e":0.0003},{"r":"Run 3","x":0.0028,"y":0.0088,"e":0.0003},{"r":"Run 3","x":0.0033,"y":0.0096,"e":0.0003},{"r":"Run 3","x":0.0038,"y":0.0102,"e":0.0003},{"r":"Run 3","x":0.0043,"y":0.0108,"e":0.0003},{"r":"Run 3","x":0.0048,"y":0.0113,"e":0.0003},{"r":"Run 3","x":0.0053,"y":0.0119,"e":0.0003},{"r":"Run 3","x":0.0058,"y":0.0125,"e":0.0003},{"r":"Run 3","x":0.0063,"y":0.0130,"e":0.0003},{"r":"Run 3","x":0.0068,"y":0.0136,"e":0.0003},{"r":"Run 3","x":0.0073,"y":0.0143,"e":0.0003},{"r":"Run 3","x":0.0078,"y":0.0150,"e":0.0003},{"r":"Run 3","x":0.0083,"y":0.0158,"e":0.0003},{"r":"Run 3","x":0.0088,"y":0.0165,"e":0.0003},{"r":"Run 3","x":0.0093,"y":0.0172,"e":0.0003},{"r":"Run 3","x":0.0098,"y":0.0179,"e":0.0003},{"r":"Run 3","x":0.0103,"y":0.0186,"e":0.0003},{"r":"Run 3","x":0.0108,"y":0.0194,"e":0.0003},{"r":"Run 3","x":0.0113,"y":0.0200,"e":0.0004},{"r":"Run 3","x":0.0118,"y":0.0206,"e":0.0004},{"r":"Run 3","x":0.0123,"y":0.0212,"e":0.0004},{"r":"Run 3","x":0.0128,"y":0.0216,"e":0.0004},{"r":"Run 3","x":0.0133,"y":0.0217,"e":0.0004},{"r":"Run 3","x":0.0138,"y":0.0218,"e":0.0004},{"r":"Run 3","x":0.0143,"y":0.0220,"e":0.0004},{"r":"Run 3","x":0.0148,"y":0.0223,"e":0.0004},{"r":"Run 3","x":0.0153,"y":0.0226,"e":0.0004},{"r":"Run 3","x":0.0158,"y":0.0229,"e":0.0004},{"r":"Run 3","x":0.0163,"y":0.0232,"e":0.0004},{"r":"Run 3","x":0.0168,"y":0.0235,"e":0.0004},{"r":"Run 3","x":0.0173,"y":0.0238,"e":0.0004},{"r":"Run 3","x":0.0178,"y":0.0242,"e":0.0004},{"r":"Run 3","x":0.0183,"y":0.0246,"e":0.0004},{"r":"Run 3","x":0.0188,"y":0.0251,"e":0.0005},{"r":"Run 3","x":0.0193,"y":0.0257,"e":0.0005},{"r":"Run 3","x":0.0198,"y":0.0265,"e":0.0005},{"r":"Run 3","x":0.0203,"y":0.0270,"e":0.0005},{"r":"Run 3","x":0.0208,"y":0.0445,"e":0.0004},{"r":"Run 3","x":0.0213,"y":0.0443,"e":0.0003},{"r":"Run 3","x":0.0218,"y":0.0443,"e":0.0003},{"r":"Run 3","x":0.0223,"y":0.04435,"e":0.0003},{"r":"Run 3","x":0.0228,"y":0.0444,"e":0.0003},{"r":"Run 3","x":0.0233,"y":0.0445,"e":0.0003},{"r":"Run 3","x":0.0238,"y":0.0446,"e":0.0003},{"r":"Run 3","x":0.0243,"y":0.0447,"e":0.0003},{"r":"Run 3","x":0.0248,"y":0.04485,"e":0.0003},{"r":"Run 3","x":0.0253,"y":0.0450,"e":0.0003},{"r":"Run 3","x":0.0258,"y":0.0452,"e":0.0003},{"r":"Run 3","x":0.0263,"y":0.04545,"e":0.0003},{"r":"Run 3","x":0.0268,"y":0.0457,"e":0.0003},{"r":"Run 3","x":0.0273,"y":0.0460,"e":0.0003},{"r":"Run 3","x":0.0278,"y":0.04635,"e":0.0003},{"r":"Run 3","x":0.0283,"y":0.0467,"e":0.0003},{"r":"Run 3","x":0.0288,"y":0.0471,"e":0.0003},{"r":"Run 3","x":0.0293,"y":0.0475,"e":0.0003},{"r":"Run 3","x":0.0298,"y":0.0480,"e":0.0003},{"r":"Run 3","x":0.0303,"y":0.0485,"e":0.0003},{"r":"Run 3","x":0.0308,"y":0.0491,"e":0.0003},{"r":"Run 3","x":0.0313,"y":0.0497,"e":0.0003},{"r":"Run 3","x":0.0318,"y":0.0503,"e":0.0003},{"r":"Run 3","x":0.0323,"y":0.0509,"e":0.0003},{"r":"Run 3","x":0.0328,"y":0.0516,"e":0.0003},{"r":"Run 3","x":0.0333,"y":0.0523,"e":0.0003},{"r":"Run 3","x":0.0338,"y":0.0530,"e":0.0003},{"r":"Run 3","x":0.0343,"y":0.0537,"e":0.0003},{"r":"Run 3","x":0.0348,"y":0.0544,"e":0.0003},{"r":"Run 3","x":0.0353,"y":0.0551,"e":0.0003},{"r":"Run 3","x":0.0358,"y":0.0558,"e":0.0003},{"r":"Run 3","x":0.0363,"y":0.0565,"e":0.0003},{"r":"Run 3","x":0.0368,"y":0.0572,"e":0.0003},{"r":"Run 3","x":0.0373,"y":0.0579,"e":0.0003},{"r":"Run 3","x":0.0378,"y":0.0586,"e":0.0003},{"r":"Run 3","x":0.0383,"y":0.0593,"e":0.0003},{"r":"Run 3","x":0.0388,"y":0.0600,"e":0.0003},{"r":"Run 3","x":0.0393,"y":0.0607,"e":0.0003},{"r":"Run 3","x":0.0398,"y":0.0614,"e":0.0003},{"r":"Run 3","x":0.0403,"y":0.0621,"e":0.0003},{"r":"Run 3","x":0.0408,"y":0.0628,"e":0.0003},{"r":"Run 3","x":0.0413,"y":0.0635,"e":0.0003},{"r":"Run 3","x":0.0418,"y":0.0640,"e":0.0004},{"r":"Run 3","x":0.0423,"y":0.0648,"e":0.0004},{"r":"Run 3","x":0.0428,"y":0.0656,"e":0.0004},{"r":"Run 3","x":0.0433,"y":0.0665,"e":0.0005},{"r":"Run 3","x":0.0438,"y":0.0673,"e":0.0005},{"r":"Run 3","x":0.0443,"y":0.0680,"e":0.0005},{"r":"Run 3","x":0.0448,"y":0.0682,"e":0.0006},{"r":"Run 3","x":0.0453,"y":0.0678,"e":0.0006},{"r":"Run 3","x":0.0458,"y":0.0676,"e":0.0006},{"r":"Run 3","x":0.0463,"y":0.0680,"e":0.0007},
{"r":"Run 4","x":0.0003,"y":0.0138,"e":0.0004},{"r":"Run 4","x":0.0008,"y":0.0070,"e":0.0003},{"r":"Run 4","x":0.0013,"y":0.0068,"e":0.0003},{"r":"Run 4","x":0.0018,"y":0.0072,"e":0.0003},{"r":"Run 4","x":0.0023,"y":0.0079,"e":0.0003},{"r":"Run 4","x":0.0028,"y":0.0087,"e":0.0003},{"r":"Run 4","x":0.0033,"y":0.0095,"e":0.0003},{"r":"Run 4","x":0.0038,"y":0.0101,"e":0.0003},{"r":"Run 4","x":0.0043,"y":0.0107,"e":0.0003},{"r":"Run 4","x":0.0048,"y":0.0112,"e":0.0003},{"r":"Run 4","x":0.0053,"y":0.0118,"e":0.0003},{"r":"Run 4","x":0.0058,"y":0.0124,"e":0.0003},{"r":"Run 4","x":0.0063,"y":0.0129,"e":0.0003},{"r":"Run 4","x":0.0068,"y":0.0135,"e":0.0003},{"r":"Run 4","x":0.0073,"y":0.0142,"e":0.0003},{"r":"Run 4","x":0.0078,"y":0.0149,"e":0.0003},{"r":"Run 4","x":0.0083,"y":0.0157,"e":0.0003},{"r":"Run 4","x":0.0088,"y":0.0165,"e":0.0003},{"r":"Run 4","x":0.0093,"y":0.0173,"e":0.0003},{"r":"Run 4","x":0.0098,"y":0.0181,"e":0.0003},{"r":"Run 4","x":0.0103,"y":0.0189,"e":0.0003},{"r":"Run 4","x":0.0108,"y":0.0197,"e":0.0003},{"r":"Run 4","x":0.0113,"y":0.0204,"e":0.0004},{"r":"Run 4","x":0.0118,"y":0.0210,"e":0.0004},{"r":"Run 4","x":0.0123,"y":0.0215,"e":0.0004},{"r":"Run 4","x":0.0128,"y":0.0218,"e":0.0004},{"r":"Run 4","x":0.0133,"y":0.0217,"e":0.0004},{"r":"Run 4","x":0.0138,"y":0.0214,"e":0.0004},{"r":"Run 4","x":0.0143,"y":0.0212,"e":0.0004},{"r":"Run 4","x":0.0148,"y":0.0215,"e":0.0004},{"r":"Run 4","x":0.0153,"y":0.0220,"e":0.0004},{"r":"Run 4","x":0.0158,"y":0.0226,"e":0.0004},{"r":"Run 4","x":0.0163,"y":0.0231,"e":0.0004},{"r":"Run 4","x":0.0168,"y":0.0235,"e":0.0004},{"r":"Run 4","x":0.0173,"y":0.0239,"e":0.0004},{"r":"Run 4","x":0.0178,"y":0.0243,"e":0.0004},{"r":"Run 4","x":0.0183,"y":0.0247,"e":0.0004},{"r":"Run 4","x":0.0188,"y":0.0251,"e":0.0004},{"r":"Run 4","x":0.0193,"y":0.0256,"e":0.0004},{"r":"Run 4","x":0.0198,"y":0.0261,"e":0.0005},{"r":"Run 4","x":0.0203,"y":0.0275,"e":0.0006},{"r":"Run 4","x":0.0208,"y":0.0295,"e":0.0008},{"r":"Run 4","x":0.0213,"y":0.0315,"e":0.0008},{"r":"Run 4","x":0.0218,"y":0.0333,"e":0.0006},{"r":"Run 4","x":0.0223,"y":0.0443,"e":0.0003},{"r":"Run 4","x":0.0228,"y":0.0444,"e":0.0003},{"r":"Run 4","x":0.0233,"y":0.0445,"e":0.0003},{"r":"Run 4","x":0.0238,"y":0.0446,"e":0.0003},{"r":"Run 4","x":0.0243,"y":0.0447,"e":0.0003},{"r":"Run 4","x":0.0248,"y":0.04485,"e":0.0003},{"r":"Run 4","x":0.0253,"y":0.0450,"e":0.0003},{"r":"Run 4","x":0.0258,"y":0.0452,"e":0.0003},{"r":"Run 4","x":0.0263,"y":0.04545,"e":0.0003},{"r":"Run 4","x":0.0268,"y":0.0457,"e":0.0003},{"r":"Run 4","x":0.0273,"y":0.0460,"e":0.0003},{"r":"Run 4","x":0.0278,"y":0.04635,"e":0.0003},{"r":"Run 4","x":0.0283,"y":0.0467,"e":0.0003},{"r":"Run 4","x":0.0288,"y":0.0471,"e":0.0003},{"r":"Run 4","x":0.0293,"y":0.0475,"e":0.0003},{"r":"Run 4","x":0.0298,"y":0.0480,"e":0.0003},{"r":"Run 4","x":0.0303,"y":0.0485,"e":0.0003},{"r":"Run 4","x":0.0308,"y":0.0491,"e":0.0003},{"r":"Run 4","x":0.0313,"y":0.0497,"e":0.0003},{"r":"Run 4","x":0.0318,"y":0.0503,"e":0.0003},{"r":"Run 4","x":0.0323,"y":0.0509,"e":0.0003},{"r":"Run 4","x":0.0328,"y":0.0516,"e":0.0003},{"r":"Run 4","x":0.0333,"y":0.0523,"e":0.0003},{"r":"Run 4","x":0.0338,"y":0.0530,"e":0.0003},{"r":"Run 4","x":0.0343,"y":0.0537,"e":0.0003},{"r":"Run 4","x":0.0348,"y":0.0544,"e":0.0003},{"r":"Run 4","x":0.0353,"y":0.0549,"e":0.0003},{"r":"Run 4","x":0.0358,"y":0.0556,"e":0.0003},{"r":"Run 4","x":0.0363,"y":0.0562,"e":0.0003},{"r":"Run 4","x":0.0368,"y":0.0569,"e":0.0003},{"r":"Run 4","x":0.0373,"y":0.0576,"e":0.0003},{"r":"Run 4","x":0.0378,"y":0.0582,"e":0.0003},{"r":"Run 4","x":0.0383,"y":0.0589,"e":0.0003},{"r":"Run 4","x":0.0388,"y":0.0595,"e":0.0003},{"r":"Run 4","x":0.0393,"y":0.0602,"e":0.0003},{"r":"Run 4","x":0.0398,"y":0.0608,"e":0.0003},{"r":"Run 4","x":0.0403,"y":0.0615,"e":0.0003},{"r":"Run 4","x":0.0408,"y":0.0621,"e":0.0003},{"r":"Run 4","x":0.0413,"y":0.0628,"e":0.0003},{"r":"Run 4","x":0.0418,"y":0.0634,"e":0.0004},{"r":"Run 4","x":0.0423,"y":0.0640,"e":0.0004},{"r":"Run 4","x":0.0428,"y":0.0646,"e":0.0004},{"r":"Run 4","x":0.0433,"y":0.0654,"e":0.0005},{"r":"Run 4","x":0.0438,"y":0.0666,"e":0.0005},{"r":"Run 4","x":0.0443,"y":0.0683,"e":0.0006},{"r":"Run 4","x":0.0448,"y":0.0698,"e":0.0006},{"r":"Run 4","x":0.0453,"y":0.0708,"e":0.0006},{"r":"Run 4","x":0.0458,"y":0.0704,"e":0.0006},
{"r":"Run 5","x":0.0003,"y":0.0143,"e":0.0004},{"r":"Run 5","x":0.0008,"y":0.0070,"e":0.0003},{"r":"Run 5","x":0.0013,"y":0.0069,"e":0.0003},{"r":"Run 5","x":0.0018,"y":0.0073,"e":0.0003},{"r":"Run 5","x":0.0023,"y":0.0080,"e":0.0003},{"r":"Run 5","x":0.0028,"y":0.0088,"e":0.0003},{"r":"Run 5","x":0.0033,"y":0.0096,"e":0.0003},{"r":"Run 5","x":0.0038,"y":0.0102,"e":0.0003},{"r":"Run 5","x":0.0043,"y":0.0108,"e":0.0003},{"r":"Run 5","x":0.0048,"y":0.0113,"e":0.0003},{"r":"Run 5","x":0.0053,"y":0.0119,"e":0.0003},{"r":"Run 5","x":0.0058,"y":0.0125,"e":0.0003},{"r":"Run 5","x":0.0063,"y":0.0130,"e":0.0003},{"r":"Run 5","x":0.0068,"y":0.0136,"e":0.0003},{"r":"Run 5","x":0.0073,"y":0.0143,"e":0.0003},{"r":"Run 5","x":0.0078,"y":0.0151,"e":0.0003},{"r":"Run 5","x":0.0083,"y":0.0159,"e":0.0003},{"r":"Run 5","x":0.0088,"y":0.0167,"e":0.0003},{"r":"Run 5","x":0.0093,"y":0.0175,"e":0.0003},{"r":"Run 5","x":0.0098,"y":0.0183,"e":0.0003},{"r":"Run 5","x":0.0103,"y":0.0191,"e":0.0003},{"r":"Run 5","x":0.0108,"y":0.0199,"e":0.0003},{"r":"Run 5","x":0.0113,"y":0.0207,"e":0.0004},{"r":"Run 5","x":0.0118,"y":0.0214,"e":0.0004},{"r":"Run 5","x":0.0123,"y":0.0220,"e":0.0004},{"r":"Run 5","x":0.0128,"y":0.0225,"e":0.0004},{"r":"Run 5","x":0.0133,"y":0.0228,"e":0.0004},{"r":"Run 5","x":0.0138,"y":0.0230,"e":0.0004},{"r":"Run 5","x":0.0143,"y":0.0229,"e":0.0004},{"r":"Run 5","x":0.0148,"y":0.0230,"e":0.0004},{"r":"Run 5","x":0.0153,"y":0.0234,"e":0.0004},{"r":"Run 5","x":0.0158,"y":0.0240,"e":0.0005},{"r":"Run 5","x":0.0163,"y":0.0246,"e":0.0005},{"r":"Run 5","x":0.0168,"y":0.0251,"e":0.0005},{"r":"Run 5","x":0.0173,"y":0.0255,"e":0.0005},{"r":"Run 5","x":0.0178,"y":0.0259,"e":0.0006},{"r":"Run 5","x":0.0183,"y":0.0263,"e":0.0006},{"r":"Run 5","x":0.0188,"y":0.0267,"e":0.0008},{"r":"Run 5","x":0.0193,"y":0.0271,"e":0.0012},{"r":"Run 5","x":0.0198,"y":0.0276,"e":0.0015},{"r":"Run 5","x":0.0203,"y":0.0310,"e":0.0015},{"r":"Run 5","x":0.0208,"y":0.0365,"e":0.0015},{"r":"Run 5","x":0.0213,"y":0.0442,"e":0.0003},{"r":"Run 5","x":0.0218,"y":0.0443,"e":0.0003},{"r":"Run 5","x":0.0223,"y":0.04435,"e":0.0003},{"r":"Run 5","x":0.0228,"y":0.0444,"e":0.0003},{"r":"Run 5","x":0.0233,"y":0.0445,"e":0.0003},{"r":"Run 5","x":0.0238,"y":0.0446,"e":0.0003},{"r":"Run 5","x":0.0243,"y":0.0447,"e":0.0003},{"r":"Run 5","x":0.0248,"y":0.04485,"e":0.0003},{"r":"Run 5","x":0.0253,"y":0.0450,"e":0.0003},{"r":"Run 5","x":0.0258,"y":0.0452,"e":0.0003},{"r":"Run 5","x":0.0263,"y":0.04545,"e":0.0003},{"r":"Run 5","x":0.0268,"y":0.0457,"e":0.0003},{"r":"Run 5","x":0.0273,"y":0.0460,"e":0.0003},{"r":"Run 5","x":0.0278,"y":0.04635,"e":0.0003},{"r":"Run 5","x":0.0283,"y":0.0467,"e":0.0003},{"r":"Run 5","x":0.0288,"y":0.0471,"e":0.0003},{"r":"Run 5","x":0.0293,"y":0.0475,"e":0.0003},{"r":"Run 5","x":0.0298,"y":0.0480,"e":0.0003},{"r":"Run 5","x":0.0303,"y":0.0485,"e":0.0003},{"r":"Run 5","x":0.0308,"y":0.0491,"e":0.0003},{"r":"Run 5","x":0.0313,"y":0.0497,"e":0.0003},{"r":"Run 5","x":0.0318,"y":0.0503,"e":0.0003},{"r":"Run 5","x":0.0323,"y":0.0509,"e":0.0003},{"r":"Run 5","x":0.0328,"y":0.0516,"e":0.0003},{"r":"Run 5","x":0.0333,"y":0.0523,"e":0.0003},{"r":"Run 5","x":0.0338,"y":0.0530,"e":0.0003},{"r":"Run 5","x":0.0343,"y":0.0537,"e":0.0003},{"r":"Run 5","x":0.0348,"y":0.0544,"e":0.0003},{"r":"Run 5","x":0.0353,"y":0.0551,"e":0.0003},{"r":"Run 5","x":0.0358,"y":0.0558,"e":0.0003},{"r":"Run 5","x":0.0363,"y":0.0565,"e":0.0003},{"r":"Run 5","x":0.0368,"y":0.0572,"e":0.0003},{"r":"Run 5","x":0.0373,"y":0.0579,"e":0.0003},{"r":"Run 5","x":0.0378,"y":0.0586,"e":0.0003},{"r":"Run 5","x":0.0383,"y":0.0593,"e":0.0003},{"r":"Run 5","x":0.0388,"y":0.0600,"e":0.0003},{"r":"Run 5","x":0.0393,"y":0.0607,"e":0.0003},{"r":"Run 5","x":0.0398,"y":0.0614,"e":0.0003},{"r":"Run 5","x":0.0403,"y":0.0621,"e":0.0003},{"r":"Run 5","x":0.0408,"y":0.0628,"e":0.0003},{"r":"Run 5","x":0.0413,"y":0.0636,"e":0.0003},{"r":"Run 5","x":0.0418,"y":0.0645,"e":0.0004},{"r":"Run 5","x":0.0423,"y":0.0653,"e":0.0004},{"r":"Run 5","x":0.0428,"y":0.0663,"e":0.0005},{"r":"Run 5","x":0.0433,"y":0.0675,"e":0.0005},{"r":"Run 5","x":0.0438,"y":0.0688,"e":0.0006},{"r":"Run 5","x":0.0443,"y":0.0705,"e":0.0006},{"r":"Run 5","x":0.0448,"y":0.0725,"e":0.0006},{"r":"Run 5","x":0.0453,"y":0.0746,"e":0.0006},
{"r":"Run 6","x":0.0003,"y":0.0147,"e":0.0004},{"r":"Run 6","x":0.0008,"y":0.0071,"e":0.0003},{"r":"Run 6","x":0.0013,"y":0.0069,"e":0.0003},{"r":"Run 6","x":0.0018,"y":0.0073,"e":0.0003},{"r":"Run 6","x":0.0023,"y":0.0080,"e":0.0003},{"r":"Run 6","x":0.0028,"y":0.0088,"e":0.0003},{"r":"Run 6","x":0.0033,"y":0.0096,"e":0.0003},{"r":"Run 6","x":0.0038,"y":0.0102,"e":0.0003},{"r":"Run 6","x":0.0043,"y":0.0108,"e":0.0003},{"r":"Run 6","x":0.0048,"y":0.0113,"e":0.0003},{"r":"Run 6","x":0.0053,"y":0.0119,"e":0.0003},{"r":"Run 6","x":0.0058,"y":0.0125,"e":0.0003},{"r":"Run 6","x":0.0063,"y":0.0130,"e":0.0003},{"r":"Run 6","x":0.0068,"y":0.0136,"e":0.0003},{"r":"Run 6","x":0.0073,"y":0.0143,"e":0.0003},{"r":"Run 6","x":0.0078,"y":0.0150,"e":0.0003},{"r":"Run 6","x":0.0083,"y":0.0158,"e":0.0003},{"r":"Run 6","x":0.0088,"y":0.0166,"e":0.0003},{"r":"Run 6","x":0.0093,"y":0.0174,"e":0.0003},{"r":"Run 6","x":0.0098,"y":0.0182,"e":0.0003},{"r":"Run 6","x":0.0103,"y":0.0190,"e":0.0003},{"r":"Run 6","x":0.0108,"y":0.0198,"e":0.0003},{"r":"Run 6","x":0.0113,"y":0.0206,"e":0.0004},{"r":"Run 6","x":0.0118,"y":0.0213,"e":0.0004},{"r":"Run 6","x":0.0123,"y":0.0219,"e":0.0004},{"r":"Run 6","x":0.0128,"y":0.0225,"e":0.0004},{"r":"Run 6","x":0.0133,"y":0.0230,"e":0.0004},{"r":"Run 6","x":0.0138,"y":0.0233,"e":0.0004},{"r":"Run 6","x":0.0143,"y":0.0234,"e":0.0004},{"r":"Run 6","x":0.0148,"y":0.0236,"e":0.0004},{"r":"Run 6","x":0.0153,"y":0.0242,"e":0.0004},{"r":"Run 6","x":0.0158,"y":0.0250,"e":0.0005},{"r":"Run 6","x":0.0163,"y":0.0263,"e":0.0005},{"r":"Run 6","x":0.0168,"y":0.0256,"e":0.0005},{"r":"Run 6","x":0.0173,"y":0.0258,"e":0.0005},{"r":"Run 6","x":0.0178,"y":0.0265,"e":0.0005},{"r":"Run 6","x":0.0183,"y":0.0268,"e":0.0005},{"r":"Run 6","x":0.0188,"y":0.0270,"e":0.0006},{"r":"Run 6","x":0.0193,"y":0.0272,"e":0.0006},{"r":"Run 6","x":0.0198,"y":0.0274,"e":0.0006},{"r":"Run 6","x":0.0203,"y":0.0275,"e":0.0006},{"r":"Run 6","x":0.0208,"y":0.0278,"e":0.0006},{"r":"Run 6","x":0.0213,"y":0.0442,"e":0.0003},{"r":"Run 6","x":0.0218,"y":0.0443,"e":0.0003},{"r":"Run 6","x":0.0223,"y":0.04435,"e":0.0003},{"r":"Run 6","x":0.0228,"y":0.0444,"e":0.0003},{"r":"Run 6","x":0.0233,"y":0.0445,"e":0.0003},{"r":"Run 6","x":0.0238,"y":0.0446,"e":0.0003},{"r":"Run 6","x":0.0243,"y":0.0447,"e":0.0003},{"r":"Run 6","x":0.0248,"y":0.04485,"e":0.0003},{"r":"Run 6","x":0.0253,"y":0.0450,"e":0.0003},{"r":"Run 6","x":0.0258,"y":0.0452,"e":0.0003},{"r":"Run 6","x":0.0263,"y":0.04545,"e":0.0003},{"r":"Run 6","x":0.0268,"y":0.0457,"e":0.0003},{"r":"Run 6","x":0.0273,"y":0.0460,"e":0.0003},{"r":"Run 6","x":0.0278,"y":0.04635,"e":0.0003},{"r":"Run 6","x":0.0283,"y":0.0467,"e":0.0003},{"r":"Run 6","x":0.0288,"y":0.0471,"e":0.0003},{"r":"Run 6","x":0.0293,"y":0.0475,"e":0.0003},{"r":"Run 6","x":0.0298,"y":0.0480,"e":0.0003},{"r":"Run 6","x":0.0303,"y":0.0485,"e":0.0003},{"r":"Run 6","x":0.0308,"y":0.0491,"e":0.0003},{"r":"Run 6","x":0.0313,"y":0.0497,"e":0.0003},{"r":"Run 6","x":0.0318,"y":0.0503,"e":0.0003},{"r":"Run 6","x":0.0323,"y":0.0509,"e":0.0003},{"r":"Run 6","x":0.0328,"y":0.0516,"e":0.0003},{"r":"Run 6","x":0.0333,"y":0.0523,"e":0.0003},{"r":"Run 6","x":0.0338,"y":0.0530,"e":0.0003},{"r":"Run 6","x":0.0343,"y":0.0537,"e":0.0003},{"r":"Run 6","x":0.0348,"y":0.0544,"e":0.0003},{"r":"Run 6","x":0.0353,"y":0.0551,"e":0.0003},{"r":"Run 6","x":0.0358,"y":0.0558,"e":0.0003},{"r":"Run 6","x":0.0363,"y":0.0565,"e":0.0003},{"r":"Run 6","x":0.0368,"y":0.0572,"e":0.0003},{"r":"Run 6","x":0.0373,"y":0.0579,"e":0.0003},{"r":"Run 6","x":0.0378,"y":0.0586,"e":0.0003},{"r":"Run 6","x":0.0383,"y":0.0593,"e":0.0003},{"r":"Run 6","x":0.0388,"y":0.0600,"e":0.0003},{"r":"Run 6","x":0.0393,"y":0.0607,"e":0.0003},{"r":"Run 6","x":0.0398,"y":0.0614,"e":0.0003},{"r":"Run 6","x":0.0403,"y":0.0621,"e":0.0003},{"r":"Run 6","x":0.0408,"y":0.0628,"e":0.0003},{"r":"Run 6","x":0.0413,"y":0.0635,"e":0.0003},{"r":"Run 6","x":0.0418,"y":0.0642,"e":0.0004},{"r":"Run 6","x":0.0423,"y":0.0650,"e":0.0004},{"r":"Run 6","x":0.0428,"y":0.0658,"e":0.0004},{"r":"Run 6","x":0.0433,"y":0.0666,"e":0.0005},{"r":"Run 6","x":0.0438,"y":0.0674,"e":0.0005},{"r":"Run 6","x":0.0443,"y":0.0682,"e":0.0005},{"r":"Run 6","x":0.0448,"y":0.0689,"e":0.0006},{"r":"Run 6","x":0.0453,"y":0.0693,"e":0.0007},{"r":"Run 6","x":0.0458,"y":0.0696,"e":0.0010},{"r":"Run 6","x":0.0463,"y":0.0701,"e":0.0012},{"r":"Run 6","x":0.0468,"y":0.0708,"e":0.0014},{"r":"Run 6","x":0.0473,"y":0.0714,"e":0.0018}
]
},
"vconcat":[
{"width":866,"height":542,
"title":{"text":"A)","anchor":"start","frame":"bounds","baseline":"alphabetic","offset":-58,"dx":-35},
"data":{"name":"a"},
"encoding":{"x":{"field":"x","type":"quantitative","title":"Expected mutations / generation","scale":{"domain":[0,0.06],"nice":false},"axis":{"values":[0,0.005,0.01,0.015,0.02,0.025,0.03,0.035,0.04,0.045,0.05,0.055,0.06],"labelExpr":"datum.value==0?'0':(abs(datum.value*100-round(datum.value*100))<0.001?format(datum.value,'.2f'):'')","labelOverlap":false,"labelFlush":false,"labelPadding":8,"titlePadding":19}}},
"layer":[
{"mark":{"type":"area","color":"#c4c4c4","stroke":"#c4c4c4","strokeWidth":5,"strokeJoin":"round"},
"encoding":{"y":{"aggregate":"min","field":"y","type":"quantitative","title":"Theta (Effective population size)","scale":{"domain":[0,0.1],"nice":false},"axis":{"values":[0,0.01,0.02,0.03,0.04,0.05,0.06,0.07,0.08,0.09,0.1],"labelExpr":"datum.value==0?'0':format(datum.value,'.2f')","labelPadding":7,"titlePadding":21}},"y2":{"aggregate":"max","field":"y"}}},
{"mark":{"type":"errorbar","ticks":true,"size":10,"thickness":1.5},
"encoding":{"y":{"field":"y","type":"quantitative","title":"Theta (Effective population size)"},"yError":{"field":"e"},
"color":{"field":"r","type":"nominal","scale":{"domain":["Run 1","Run 2","Run 3","Run 4","Run 5","Run 6"],"range":["#000080","#e6217e","#f7f227","#3fb1fb","#820a78","#841212"]},"legend":{"orient":"none","legendX":759,"legendY":-8,"title":null,"fillColor":"#c9c9d1","padding":10,"symbolType":"stroke","symbolStrokeWidth":5,"symbolSize":900,"symbolOpacity":1,"labelFont":"Liberation Serif","labelFontSize":26,"labelColor":"#000","rowPadding":4,"labelOffset":5}}}},
{"mark":{"type":"line","interpolate":"monotone","strokeWidth":2},
"encoding":{"y":{"field":"y","type":"quantitative","title":"Theta (Effective population size)"},
"color":{"field":"r","type":"nominal","scale":{"domain":["Run 1","Run 2","Run 3","Run 4","Run 5","Run 6"],"range":["#000080","#e6217e","#f7f227","#3fb1fb","#820a78","#841212"]},"legend":{"orient":"none","legendX":759,"legendY":-8,"title":null,"fillColor":"#c9c9d1","padding":10,"symbolType":"stroke","symbolStrokeWidth":5,"symbolSize":900,"symbolOpacity":1,"labelFont":"Liberation Serif","labelFontSize":26,"labelColor":"#000","rowPadding":4,"labelOffset":5}}}}
]},
{"width":866,"height":542,
"title":{"text":"B)","anchor":"start","frame":"bounds","baseline":"alphabetic","offset":-58,"dx":-33},
"data":{"name":"b"},
"encoding":{"x":{"field":"x","type":"quantitative","title":"Expected mutations / generation","scale":{"domain":[0,0.06],"nice":false},"axis":{"values":[0,0.005,0.01,0.015,0.02,0.025,0.03,0.035,0.04,0.045,0.05,0.055,0.06],"labelExpr":"datum.value==0?'0':(abs(datum.value*100-round(datum.value*100))<0.001?format(datum.value,'.2f'):'')","labelOverlap":false,"labelFlush":false,"labelPadding":8,"titlePadding":19}}},
"layer":[
{"mark":{"type":"area","color":"#c4c4c4","stroke":"#c4c4c4","strokeWidth":5,"strokeJoin":"round"},
"encoding":{"y":{"aggregate":"min","field":"y","type":"quantitative","title":"Theta (Effective population size)","scale":{"domain":[0,0.1],"nice":false},"axis":{"values":[0,0.01,0.02,0.03,0.04,0.05,0.06,0.07,0.08,0.09,0.1],"labelExpr":"datum.value==0?'0':format(datum.value,'.2f')","labelPadding":7,"titlePadding":21}},"y2":{"aggregate":"max","field":"y"}}},
{"mark":{"type":"errorbar","ticks":true,"size":10,"thickness":1.5},
"encoding":{"y":{"field":"y","type":"quantitative","title":"Theta (Effective population size)"},"yError":{"field":"e"},
"color":{"field":"r","type":"nominal","scale":{"domain":["Run 1","Run 2","Run 3","Run 4","Run 5","Run 6"],"range":["#000080","#e6217e","#f7f227","#3fb1fb","#820a78","#841212"]},"legend":{"orient":"none","legendX":759,"legendY":-8,"title":null,"fillColor":"#c9c9d1","padding":10,"symbolType":"stroke","symbolStrokeWidth":5,"symbolSize":900,"symbolOpacity":1,"labelFont":"Liberation Serif","labelFontSize":26,"labelColor":"#000","rowPadding":4,"labelOffset":5}}}},
{"mark":{"type":"line","interpolate":"monotone","strokeWidth":2},
"encoding":{"y":{"field":"y","type":"quantitative","title":"Theta (Effective population size)"},
"color":{"field":"r","type":"nominal","scale":{"domain":["Run 1","Run 2","Run 3","Run 4","Run 5","Run 6"],"range":["#000080","#e6217e","#f7f227","#3fb1fb","#820a78","#841212"]},"legend":{"orient":"none","legendX":759,"legendY":-8,"title":null,"fillColor":"#c9c9d1","padding":10,"symbolType":"stroke","symbolStrokeWidth":5,"symbolSize":900,"symbolOpacity":1,"labelFont":"Liberation Serif","labelFontSize":26,"labelColor":"#000","rowPadding":4,"labelOffset":5}}}}
]}
]
}
